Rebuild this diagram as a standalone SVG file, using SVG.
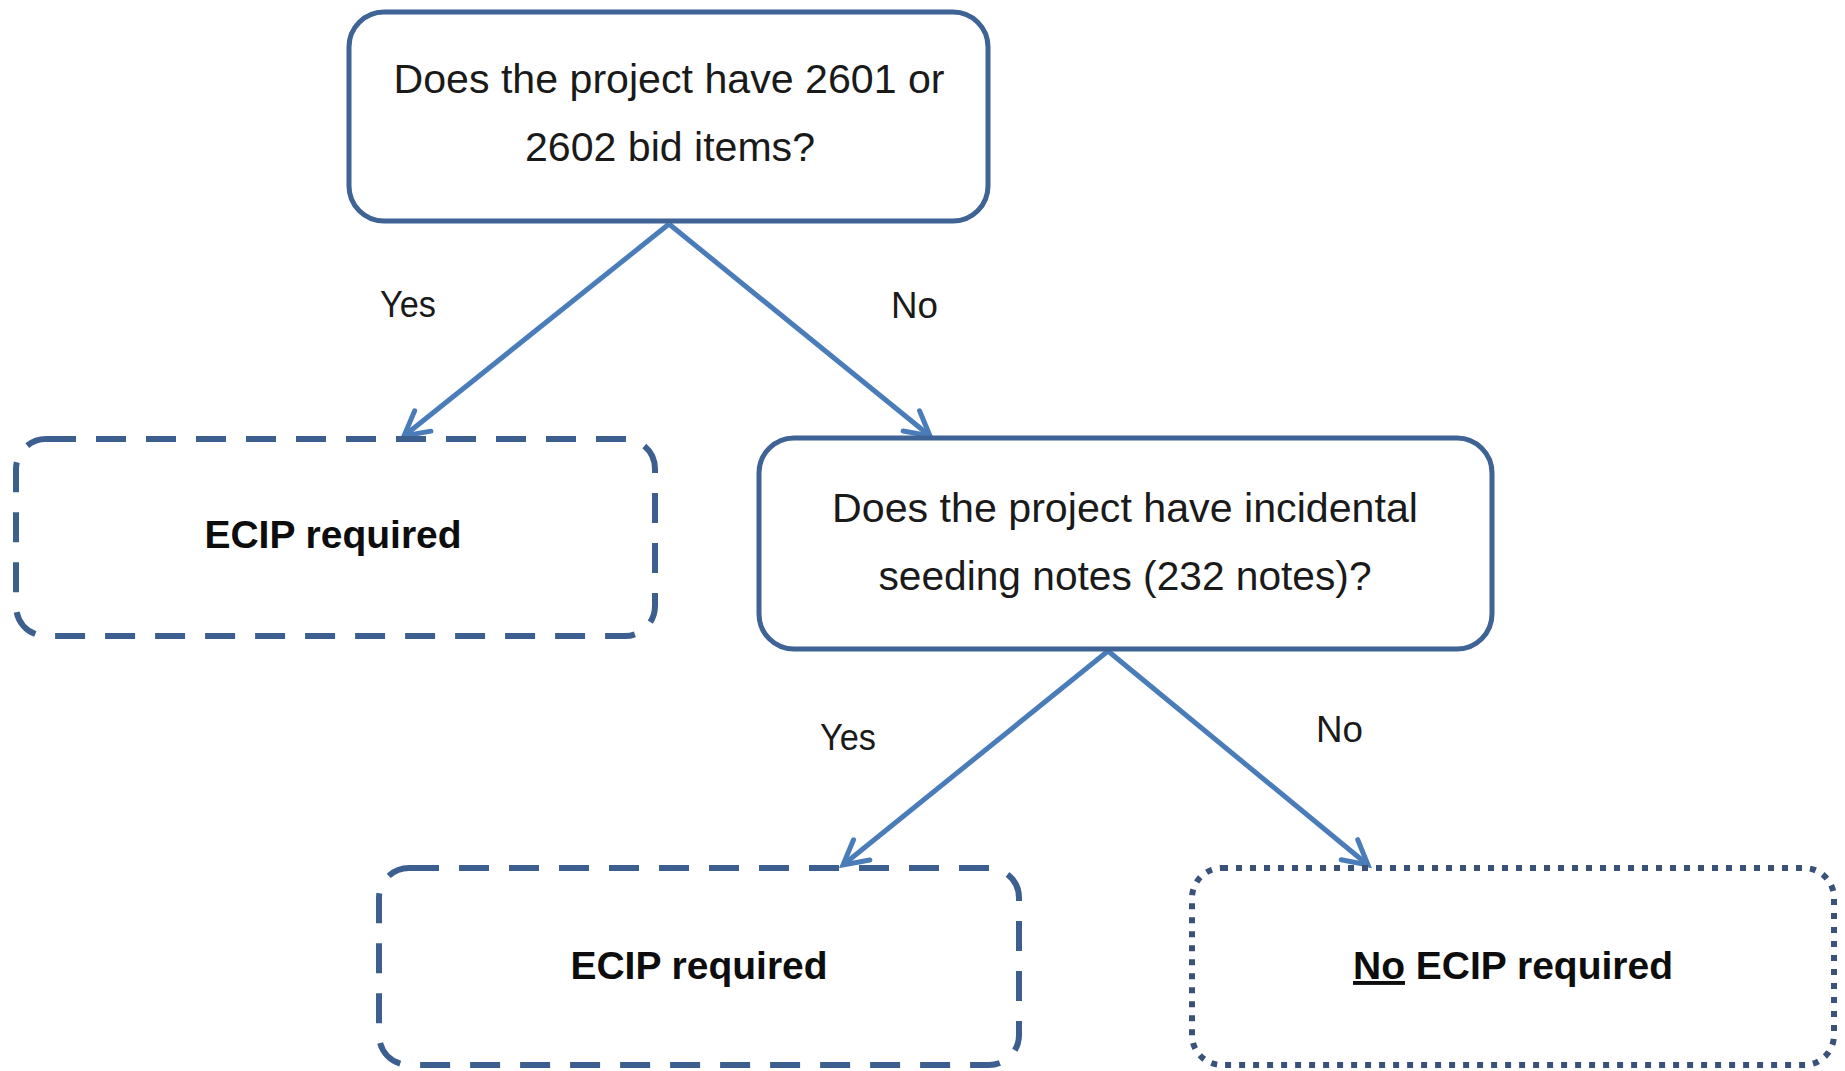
<svg xmlns="http://www.w3.org/2000/svg" width="1845" height="1071" viewBox="0 0 1845 1071">
<defs>
<style>
.box{fill:#ffffff;stroke:#3f6394;stroke-width:5}
.dash{fill:#ffffff;stroke:#3d5f8f;stroke-width:6;stroke-dasharray:30 20}
.dot{fill:#ffffff;stroke:#3b5278;stroke-width:6;stroke-dasharray:6 8}
.q{font-family:"Liberation Sans",Arial,sans-serif;font-size:41px;fill:#1a1a1a;text-anchor:middle}
.b{font-family:"Liberation Sans",Arial,sans-serif;font-size:39px;font-weight:bold;fill:#0d0d0d;text-anchor:middle}
.l{font-family:"Liberation Sans",Arial,sans-serif;font-size:37px;fill:#1a1a1a}
.c{stroke:#4a7cba;stroke-width:5;fill:none;marker-end:url(#arr)}
</style>
<marker id="arr" markerUnits="userSpaceOnUse" markerWidth="40" markerHeight="40" viewBox="-30 -20 40 40" refX="0" refY="0" orient="auto">
<path d="M -24 -13 L 0 0 L -24 13" fill="none" stroke="#4a7cba" stroke-width="5" stroke-linecap="round" stroke-linejoin="miter"/>
</marker>
</defs>
<rect width="1845" height="1071" fill="#ffffff"/>
<g id="connectors">
<line class="c" x1="669" y1="224" x2="404" y2="436"/>
<line class="c" x1="669" y1="224" x2="930" y2="436"/>
<line class="c" x1="1108" y1="651" x2="843" y2="865"/>
<line class="c" x1="1108" y1="651" x2="1368" y2="865"/>
<text class="l" x="380" y="317" textLength="56" lengthAdjust="spacingAndGlyphs">Yes</text>
<text class="l" x="891" y="318" textLength="47" lengthAdjust="spacingAndGlyphs">No</text>
<text class="l" x="820" y="750" textLength="56" lengthAdjust="spacingAndGlyphs">Yes</text>
<text class="l" x="1316" y="742" textLength="47" lengthAdjust="spacingAndGlyphs">No</text>
</g>
<g id="q1">
<rect class="box" x="349" y="12" width="639" height="209" rx="35"/>
<text class="q" x="669" y="93" textLength="551" lengthAdjust="spacingAndGlyphs">Does the project have 2601 or</text>
<text class="q" x="670" y="161" textLength="290" lengthAdjust="spacingAndGlyphs">2602 bid items?</text>
</g>
<g id="q2">
<rect class="box" x="759" y="438" width="733" height="211" rx="35"/>
<text class="q" x="1125" y="522" textLength="586" lengthAdjust="spacingAndGlyphs">Does the project have incidental</text>
<text class="q" x="1125" y="590" textLength="493" lengthAdjust="spacingAndGlyphs">seeding notes (232 notes)?</text>
</g>
<g id="ecip1">
<rect class="dash" x="16" y="439" width="639" height="197" rx="30"/>
<text class="b" x="333" y="548">ECIP required</text>
</g>
<g id="ecip2">
<rect class="dash" x="379" y="868" width="640" height="197" rx="30"/>
<text class="b" x="699" y="979">ECIP required</text>
</g>
<g id="noecip">
<rect class="dot" x="1192" y="868" width="642" height="197" rx="30"/>
<text class="b" x="1513" y="979"><tspan text-decoration="underline">No</tspan> ECIP required</text>
</g>
</svg>
